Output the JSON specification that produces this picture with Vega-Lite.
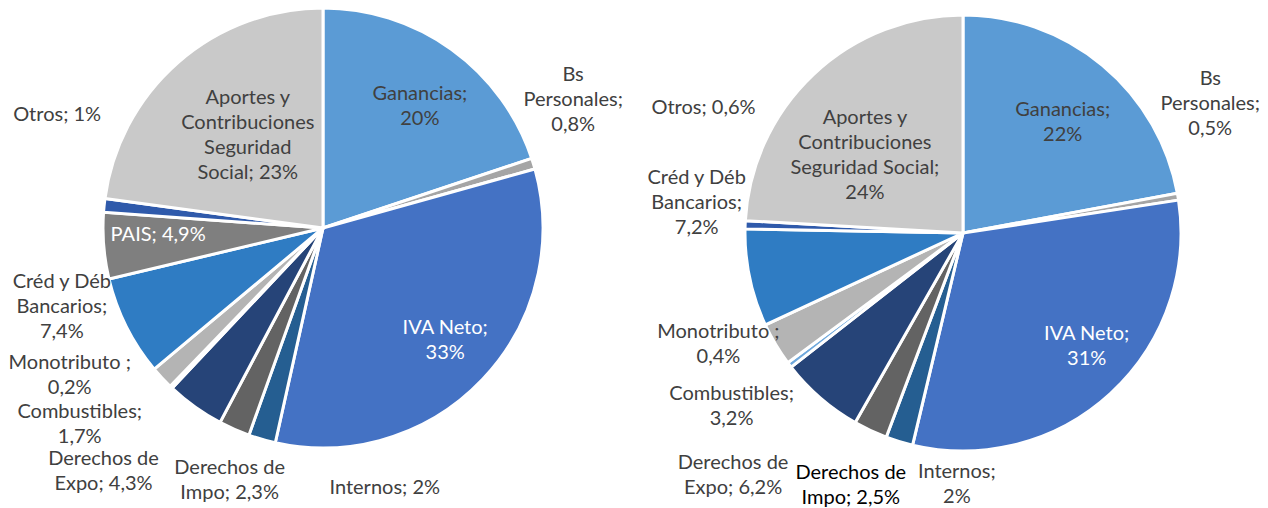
{
  "$schema": "https://vega.github.io/schema/vega-lite/v6.json",
  "padding": 0,
  "spacing": 12,
  "bounds": "flush",
  "background": "white",
  "config": {"view": {"stroke": null}, "text": {"font": "Lato", "fontSize": 20, "lineHeight": 25, "lineBreak": "\n", "align": "center", "baseline": "middle", "color": "#404040"}},
  "datasets": {
    "izq": [
      {"concepto": "Ganancias", "valor": 20, "orden": 1, "etiqueta": "Ganancias;\n20%"},
      {"concepto": "Bs Personales", "valor": 0.8, "orden": 2, "etiqueta": "Bs\nPersonales;\n0,8%"},
      {"concepto": "IVA Neto", "valor": 33, "orden": 3, "etiqueta": "IVA Neto;\n33%"},
      {"concepto": "Internos", "valor": 2, "orden": 4, "etiqueta": "Internos; 2%"},
      {"concepto": "Derechos de Impo", "valor": 2.3, "orden": 5, "etiqueta": "Derechos de\nImpo; 2,3%"},
      {"concepto": "Derechos de Expo", "valor": 4.3, "orden": 6, "etiqueta": "Derechos de\nExpo; 4,3%"},
      {"concepto": "Monotributo", "valor": 0.2, "orden": 7, "etiqueta": "Monotributo ;\n0,2%"},
      {"concepto": "Combustibles", "valor": 1.7, "orden": 8, "etiqueta": "Combustibles;\n1,7%"},
      {"concepto": "Créd y Déb Bancarios", "valor": 7.4, "orden": 9, "etiqueta": "Créd y Déb\nBancarios;\n7,4%"},
      {"concepto": "PAIS", "valor": 4.9, "orden": 10, "etiqueta": "PAIS; 4,9%"},
      {"concepto": "Otros", "valor": 1, "orden": 11, "etiqueta": "Otros; 1%"},
      {"concepto": "Aportes y Contribuciones Seguridad Social", "valor": 23, "orden": 12, "etiqueta": "Aportes y\nContribuciones\nSeguridad\nSocial; 23%"}
    ],
    "der": [
      {"concepto": "Ganancias", "valor": 22, "orden": 1, "etiqueta": "Ganancias;\n22%"},
      {"concepto": "Bs Personales", "valor": 0.5, "orden": 2, "etiqueta": "Bs\nPersonales;\n0,5%"},
      {"concepto": "IVA Neto", "valor": 31, "orden": 3, "etiqueta": "IVA Neto;\n31%"},
      {"concepto": "Internos", "valor": 2, "orden": 4, "etiqueta": "Internos;\n2%"},
      {"concepto": "Derechos de Impo", "valor": 2.5, "orden": 5, "etiqueta": "Derechos de\nImpo; 2,5%"},
      {"concepto": "Derechos de Expo", "valor": 6.2, "orden": 6, "etiqueta": "Derechos de\nExpo; 6,2%"},
      {"concepto": "Monotributo", "valor": 0.4, "orden": 7, "etiqueta": "Monotributo ;\n0,4%"},
      {"concepto": "Combustibles", "valor": 3.2, "orden": 8, "etiqueta": "Combustibles;\n3,2%"},
      {"concepto": "Créd y Déb Bancarios", "valor": 7.2, "orden": 9, "etiqueta": "Créd y Déb\nBancarios;\n7,2%"},
      {"concepto": "Otros", "valor": 0.6, "orden": 11, "etiqueta": "Otros; 0,6%"},
      {"concepto": "Aportes y Contribuciones Seguridad Social", "valor": 24, "orden": 12, "etiqueta": "Aportes y\nContribuciones\nSeguridad Social;\n24%"}
    ]
  },
  "hconcat": [
    {
      "width": 646,
      "height": 456,
      "data": {"name": "izq"},
      "transform": [{"stack": "valor", "groupby": [], "sort": [{"field": "orden", "order": "ascending"}], "as": ["ini", "fin"]}],
      "encoding": {
        "theta": {"field": "ini", "type": "quantitative", "scale": {"domain": [0, 100.6]}}
      },
      "layer": [
        {
          "mark": {"type": "arc", "outerRadius": 220, "stroke": "white", "strokeWidth": 3},
          "encoding": {
            "theta2": {"field": "fin"},
            "color": {"field": "concepto", "type": "nominal", "legend": null,
              "scale": {"domain": ["Ganancias", "Bs Personales", "IVA Neto", "Internos", "Derechos de Impo", "Derechos de Expo", "Monotributo", "Combustibles", "Créd y Déb Bancarios", "PAIS", "Otros", "Aportes y Contribuciones Seguridad Social"],
                "range": ["#5B9BD5", "#A5A5A5", "#4472C4", "#255E91", "#636363", "#264478", "#6FA8DC", "#B4B4B4", "#2F7CC3", "#7F7F7F", "#2F5AAB", "#C9C9C9"]}}
          }
        },
        {"transform": [{"filter": "datum.concepto === 'Ganancias'"}], "mark": {"type": "text", "radius": 155, "thetaOffset": 0.675, "dy": -12.5}, "encoding": {"text": {"field": "etiqueta"}}},
        {"transform": [{"filter": "datum.concepto === 'Bs Personales'"}], "mark": {"type": "text", "radius": 281, "thetaOffset": -0.151, "dy": -25}, "encoding": {"text": {"field": "etiqueta"}}},
        {"transform": [{"filter": "datum.concepto === 'IVA Neto'"}], "mark": {"type": "text", "radius": 166, "thetaOffset": 1.015, "color": "white", "dy": -12.5}, "encoding": {"text": {"field": "etiqueta"}}},
        {"transform": [{"filter": "datum.concepto === 'Internos'"}], "mark": {"type": "text", "radius": 267, "thetaOffset": -0.452}, "encoding": {"text": {"field": "etiqueta"}}},
        {"transform": [{"filter": "datum.concepto === 'Derechos de Impo'"}], "mark": {"type": "text", "radius": 269, "thetaOffset": 0.011, "dy": -12.5}, "encoding": {"text": {"field": "etiqueta"}}},
        {"transform": [{"filter": "datum.concepto === 'Derechos de Expo'"}], "mark": {"type": "text", "radius": 328, "thetaOffset": 0.246, "dy": -12.5}, "encoding": {"text": {"field": "etiqueta"}}},
        {"transform": [{"filter": "datum.concepto === 'Monotributo'"}], "mark": {"type": "text", "radius": 293, "thetaOffset": 0.288, "dy": -12.5}, "encoding": {"text": {"field": "etiqueta"}}},
        {"transform": [{"filter": "datum.concepto === 'Combustibles'"}], "mark": {"type": "text", "radius": 313, "thetaOffset": 0.122, "dy": -12.5}, "encoding": {"text": {"field": "etiqueta"}}},
        {"transform": [{"filter": "datum.concepto === 'Créd y Déb Bancarios'"}], "mark": {"type": "text", "radius": 273, "thetaOffset": 0.401, "dy": -25}, "encoding": {"text": {"field": "etiqueta"}}},
        {"transform": [{"filter": "datum.concepto === 'PAIS'"}], "mark": {"type": "text", "radius": 165, "thetaOffset": 0.189, "color": "white"}, "encoding": {"text": {"field": "etiqueta"}}},
        {"transform": [{"filter": "datum.concepto === 'Otros'"}], "mark": {"type": "text", "radius": 289, "thetaOffset": 0.331}, "encoding": {"text": {"field": "etiqueta"}}},
        {"transform": [{"filter": "datum.concepto === 'Aportes y Contribuciones Seguridad Social'"}], "mark": {"type": "text", "radius": 119, "thetaOffset": 0.752, "dy": -37.5}, "encoding": {"text": {"field": "etiqueta"}}}
      ]
    },
    {
      "width": 610,
      "height": 466,
      "data": {"name": "der"},
      "transform": [{"stack": "valor", "groupby": [], "sort": [{"field": "orden", "order": "ascending"}], "as": ["ini", "fin"]}],
      "encoding": {
        "theta": {"field": "ini", "type": "quantitative", "scale": {"domain": [0, 99.6]}}
      },
      "layer": [
        {
          "mark": {"type": "arc", "outerRadius": 218, "stroke": "white", "strokeWidth": 3},
          "encoding": {
            "theta2": {"field": "fin"},
            "color": {"field": "concepto", "type": "nominal", "legend": null,
              "scale": {"domain": ["Ganancias", "Bs Personales", "IVA Neto", "Internos", "Derechos de Impo", "Derechos de Expo", "Monotributo", "Combustibles", "Créd y Déb Bancarios", "PAIS", "Otros", "Aportes y Contribuciones Seguridad Social"],
                "range": ["#5B9BD5", "#A5A5A5", "#4472C4", "#255E91", "#636363", "#264478", "#6FA8DC", "#B4B4B4", "#2F7CC3", "#7F7F7F", "#2F5AAB", "#C9C9C9"]}}
          }
        },
        {"transform": [{"filter": "datum.concepto === 'Ganancias'"}], "mark": {"type": "text", "radius": 149, "thetaOffset": 0.733, "dy": -12.5}, "encoding": {"text": {"field": "etiqueta"}}},
        {"transform": [{"filter": "datum.concepto === 'Bs Personales'"}], "mark": {"type": "text", "radius": 279, "thetaOffset": -0.299, "dy": -25}, "encoding": {"text": {"field": "etiqueta"}}},
        {"transform": [{"filter": "datum.concepto === 'IVA Neto'"}], "mark": {"type": "text", "radius": 168, "thetaOffset": 0.895, "color": "white", "dy": -12.5}, "encoding": {"text": {"field": "etiqueta"}}},
        {"transform": [{"filter": "datum.concepto === 'Internos'"}], "mark": {"type": "text", "radius": 252, "thetaOffset": -0.209, "dy": -12.5}, "encoding": {"text": {"field": "etiqueta"}}},
        {"transform": [{"filter": "datum.concepto === 'Derechos de Impo'"}], "mark": {"type": "text", "radius": 276, "thetaOffset": 0.059, "color": "black", "dy": -12.5}, "encoding": {"text": {"field": "etiqueta"}}},
        {"transform": [{"filter": "datum.concepto === 'Derechos de Expo'"}], "mark": {"type": "text", "radius": 334, "thetaOffset": 0.242, "dy": -12.5}, "encoding": {"text": {"field": "etiqueta"}}},
        {"transform": [{"filter": "datum.concepto === 'Monotributo'"}], "mark": {"type": "text", "radius": 269, "thetaOffset": 0.233, "dy": -12.5}, "encoding": {"text": {"field": "etiqueta"}}},
        {"transform": [{"filter": "datum.concepto === 'Combustibles'"}], "mark": {"type": "text", "radius": 289, "thetaOffset": -0.005, "dy": -12.5}, "encoding": {"text": {"field": "etiqueta"}}},
        {"transform": [{"filter": "datum.concepto === 'Créd y Déb Bancarios'"}], "mark": {"type": "text", "radius": 268, "thetaOffset": 0.547, "dy": -25}, "encoding": {"text": {"field": "etiqueta"}}},
        {"transform": [{"filter": "datum.concepto === 'Otros'"}], "mark": {"type": "text", "radius": 288, "thetaOffset": 0.43}, "encoding": {"text": {"field": "etiqueta"}}},
        {"transform": [{"filter": "datum.concepto === 'Aportes y Contribuciones Seguridad Social'"}], "mark": {"type": "text", "radius": 125, "thetaOffset": 0.612, "dy": -37.5}, "encoding": {"text": {"field": "etiqueta"}}}
      ]
    }
  ]
}
